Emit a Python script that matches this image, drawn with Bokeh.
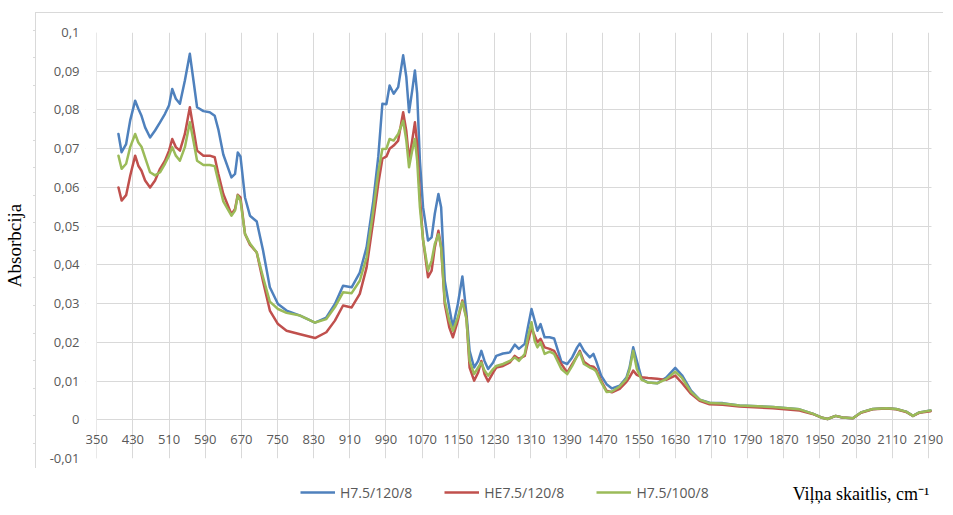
from bokeh.plotting import figure
from bokeh.layouts import column
from bokeh.models import (FixedTicker, CustomJSTickFormatter, Legend, LegendItem,
                          Label, InlineStyleSheet, Range1d, BoxAnnotation)
from bokeh.embed import file_html
from bokeh.resources import INLINE

# ---------------- data ----------------
wavenumber = [398, 405, 415, 424, 435, 442, 449, 457, 468, 479, 490, 501, 510, 517, 525, 534,
              545, 556, 564, 572, 586, 600, 611, 619, 630, 648, 656, 662, 668, 678, 689, 704,
              718, 733, 751, 770, 800, 833, 858, 877, 895, 914, 932, 947, 962, 973, 982, 991,
              998, 1007, 1017, 1028, 1035, 1041, 1048, 1054, 1059, 1065, 1072, 1083, 1091, 1098,
              1106, 1112, 1120, 1130, 1138, 1149, 1159, 1168, 1175, 1185, 1194, 1201, 1208, 1216,
              1227, 1234, 1249, 1264, 1275, 1284, 1297, 1304, 1312, 1319, 1325, 1332, 1341, 1352,
              1362, 1378, 1391, 1402, 1413, 1419, 1428, 1441, 1449, 1455, 1466, 1478, 1490, 1507,
              1522, 1529, 1537, 1545, 1556, 1570, 1590, 1610, 1630, 1645, 1665, 1684, 1706, 1735,
              1772, 1846, 1905, 1934, 1953, 1967, 1985, 2000, 2023, 2041, 2067, 2097, 2119, 2141,
              2156, 2170, 2195]

h75_120_8 = [0.0738, 0.0691, 0.0712, 0.0773, 0.0824, 0.0803, 0.0785, 0.0755, 0.0729, 0.0747, 0.0768,
             0.0790, 0.0812, 0.0854, 0.0829, 0.0816, 0.0876, 0.0945, 0.0876, 0.0807, 0.0797, 0.0794,
             0.0785, 0.0750, 0.0685, 0.0626, 0.0635, 0.0690, 0.0680, 0.0574, 0.0527, 0.0512, 0.0437,
             0.0342, 0.0299, 0.0282, 0.0269, 0.0251, 0.0264, 0.0299, 0.0346, 0.0342, 0.0380, 0.0445,
             0.0566, 0.0680, 0.0816, 0.0815, 0.0863, 0.0842, 0.0859, 0.0941, 0.0885, 0.0794, 0.0850,
             0.0902, 0.0842, 0.0669, 0.0549, 0.0463, 0.0471, 0.0532, 0.0583, 0.0549, 0.0359, 0.0290,
             0.0239, 0.0299, 0.0370, 0.0275, 0.0178, 0.0135, 0.0152, 0.0178, 0.0152, 0.0131, 0.0148,
             0.0165, 0.0171, 0.0174, 0.0194, 0.0183, 0.0196, 0.0239, 0.0286, 0.0256, 0.0230, 0.0247,
             0.0213, 0.0213, 0.0210, 0.0150, 0.0144, 0.0161, 0.0187, 0.0197, 0.0178, 0.0161, 0.0170,
             0.0152, 0.0114, 0.0092, 0.0081, 0.0088, 0.0109, 0.0135, 0.0187, 0.0152, 0.0105, 0.0096,
             0.0094, 0.0109, 0.0134, 0.0115, 0.0075, 0.0052, 0.0044, 0.0043, 0.0037, 0.0033, 0.0027,
             0.0016, 0.0006, 0.0002, 0.0010, 0.0006, 0.0004, 0.0019, 0.0028, 0.0030, 0.0028, 0.0021,
             0.0010, 0.0019, 0.0024]

he75_120_8 = [0.0600, 0.0566, 0.0580, 0.0630, 0.0682, 0.0656, 0.0643, 0.0618, 0.0600, 0.0618, 0.0648,
              0.0669, 0.0695, 0.0725, 0.0704, 0.0695, 0.0738, 0.0807, 0.0751, 0.0695, 0.0682, 0.0682,
              0.0678, 0.0635, 0.0583, 0.0531, 0.0544, 0.0581, 0.0574, 0.0480, 0.0452, 0.0432, 0.0357,
              0.0282, 0.0247, 0.0230, 0.0221, 0.0211, 0.0226, 0.0256, 0.0295, 0.0290, 0.0325, 0.0393,
              0.0515, 0.0610, 0.0674, 0.0680, 0.0700, 0.0708, 0.0721, 0.0794, 0.0745, 0.0671, 0.0721,
              0.0768, 0.0712, 0.0574, 0.0465, 0.0368, 0.0385, 0.0445, 0.0488, 0.0445, 0.0299, 0.0239,
              0.0213, 0.0256, 0.0308, 0.0264, 0.0135, 0.0101, 0.0122, 0.0152, 0.0118, 0.0099, 0.0122,
              0.0135, 0.0139, 0.0148, 0.0165, 0.0157, 0.0165, 0.0200, 0.0237, 0.0217, 0.0200, 0.0209,
              0.0187, 0.0183, 0.0178, 0.0144, 0.0122, 0.0144, 0.0165, 0.0178, 0.0150, 0.0139, 0.0137,
              0.0130, 0.0101, 0.0075, 0.0071, 0.0080, 0.0098, 0.0110, 0.0127, 0.0116, 0.0110, 0.0108,
              0.0106, 0.0103, 0.0114, 0.0095, 0.0067, 0.0049, 0.0040, 0.0039, 0.0034, 0.0030, 0.0024,
              0.0015, 0.0006, 0.0002, 0.0010, 0.0006, 0.0004, 0.0018, 0.0027, 0.0029, 0.0027, 0.0020,
              0.0010, 0.0018, 0.0022]

h75_100_8 = [0.0682, 0.0648, 0.0661, 0.0704, 0.0738, 0.0716, 0.0705, 0.0677, 0.0639, 0.0631, 0.0639,
             0.0661, 0.0682, 0.0704, 0.0682, 0.0669, 0.0704, 0.0768, 0.0720, 0.0669, 0.0658, 0.0658,
             0.0655, 0.0616, 0.0564, 0.0527, 0.0540, 0.0579, 0.0566, 0.0480, 0.0455, 0.0432, 0.0368,
             0.0305, 0.0286, 0.0276, 0.0269, 0.0251, 0.0260, 0.0291, 0.0329, 0.0327, 0.0359, 0.0419,
             0.0541, 0.0640, 0.0699, 0.0700, 0.0725, 0.0721, 0.0738, 0.0772, 0.0721, 0.0652, 0.0695,
             0.0725, 0.0669, 0.0549, 0.0465, 0.0385, 0.0411, 0.0454, 0.0479, 0.0445, 0.0308, 0.0256,
             0.0230, 0.0265, 0.0305, 0.0260, 0.0152, 0.0118, 0.0135, 0.0148, 0.0127, 0.0114, 0.0131,
             0.0139, 0.0144, 0.0152, 0.0161, 0.0152, 0.0170, 0.0213, 0.0252, 0.0204, 0.0187, 0.0200,
             0.0170, 0.0176, 0.0170, 0.0131, 0.0118, 0.0139, 0.0165, 0.0174, 0.0144, 0.0135, 0.0131,
             0.0125, 0.0097, 0.0072, 0.0073, 0.0086, 0.0105, 0.0130, 0.0178, 0.0131, 0.0103, 0.0096,
             0.0094, 0.0105, 0.0124, 0.0108, 0.0072, 0.0052, 0.0043, 0.0042, 0.0037, 0.0033, 0.0027,
             0.0016, 0.0006, 0.0002, 0.0010, 0.0006, 0.0004, 0.0019, 0.0028, 0.0030, 0.0028, 0.0021,
             0.0010, 0.0019, 0.0024]

series = [h75_120_8, he75_120_8, h75_100_8]
series_names = ["H7.5/120/8", "HE7.5/120/8", "H7.5/100/8"]
series_colors = ["#4F81BD", "#C0504D", "#9BBB59"]

x_ticks = [350, 430, 510, 590, 670, 750, 830, 910, 990, 1070, 1150, 1230, 1310, 1390,
           1470, 1550, 1630, 1710, 1790, 1870, 1950, 2030, 2110, 2190]
y_ticks = [-0.01, 0.0, 0.01, 0.02, 0.03, 0.04, 0.05, 0.06, 0.07, 0.08, 0.09, 0.1]

x_title = "Viļņa skaitlis, cm⁻¹"
y_title = "Absorbcija"

# ---------------- layout / style ----------------
GRID = "#d9d9d9"
TICK_FONT = "Open Sans"
PLOT_AREA_START = 350     # left edge of the original plot area
PLOT_AREA_END = 2197      # right edge of the original plot area
VIEW_START = 325.1        # extra room so the end tick labels are not clipped
VIEW_END = 2223.6
W = 943

p = figure(width=W, height=468, output_backend="svg", toolbar_location=None,
           x_range=Range1d(VIEW_START, VIEW_END), y_range=Range1d(-0.01, 0.1),
           min_border_left=76, min_border_right=0, min_border_top=32, min_border_bottom=10)
p.outline_line_color = None
p.background_fill_color = "white"
p.border_fill_color = "white"

# x axis crosses at 0 (labels sit between 0 and -0.01)
p.xaxis.fixed_location = 0
p.xaxis.ticker = FixedTicker(ticks=x_ticks)
p.xaxis.major_tick_line_color = None
p.xaxis.minor_tick_line_color = None
p.xaxis.axis_line_color = None
p.xaxis.major_label_standoff = 9
p.xaxis.major_label_text_font = TICK_FONT
p.xaxis.major_label_text_font_size = "13px"
p.xaxis.major_label_text_color = "#595959"

p.yaxis.ticker = FixedTicker(ticks=y_ticks)
p.yaxis.formatter = CustomJSTickFormatter(
    code="if (Math.abs(tick) < 1e-9) { return '0'; } "
         "return tick.toFixed(2).replace(/0$/, '').replace('.', ',');")
p.yaxis.major_tick_line_color = None
p.yaxis.minor_tick_line_color = None
p.yaxis.axis_line_color = None
p.yaxis.major_label_standoff = 0
p.yaxis.major_label_text_font = TICK_FONT
p.yaxis.major_label_text_font_size = "13px"
p.yaxis.major_label_text_color = "#595959"
p.yaxis.axis_label = y_title
p.yaxis.axis_label_text_font = "Liberation Serif"
p.yaxis.axis_label_text_font_style = "normal"
p.yaxis.axis_label_text_font_size = "19px"
p.yaxis.axis_label_text_color = "black"
p.yaxis.axis_label_standoff = 22

p.xgrid.ticker = FixedTicker(ticks=x_ticks)
p.ygrid.ticker = FixedTicker(ticks=y_ticks)
p.grid.grid_line_color = GRID
p.grid.grid_line_width = 1

# white strips hiding the gridlines outside the original plot area
p.add_layout(BoxAnnotation(right=PLOT_AREA_START - 0.8, fill_color="white", fill_alpha=1,
                           line_color=None, level="underlay"))
p.add_layout(BoxAnnotation(left=PLOT_AREA_END, fill_color="white", fill_alpha=1,
                           line_color=None, level="underlay"))

for vals, col in zip(series, series_colors):
    p.line(wavenumber, vals, line_color=col, line_width=2.5,
           line_join="round", line_cap="round")

# outer chart-area frame (border lines of the original chart box)
p.stylesheets.append(InlineStyleSheet(css="""
:host::before {
  content: ""; position: absolute; left: 35px; top: 12px; right: 0; bottom: 0;
  border-left: 1px solid #d9d9d9; border-top: 1px solid #d9d9d9;
  pointer-events: none; z-index: 5;
}
:host::after {
  content: ""; position: absolute; left: 33px; width: 3px; top: 3px; bottom: 0;
  background-image: repeating-linear-gradient(to bottom, transparent 0px, transparent 26.5px,
                    #d9d9d9 26.5px, #d9d9d9 27.55px);
  pointer-events: none; z-index: 5;
}
"""))

# ---------------- bottom strip: legend + x-axis title ----------------
# (ranges chosen so the series drawn here stay out of view; only their legend glyphs show)
H2 = 39
p2 = figure(width=W, height=H2, output_backend="svg", toolbar_location=None,
            x_range=Range1d(0, 1), y_range=Range1d(10, 11),
            x_axis_type=None, y_axis_type=None,
            min_border_left=0, min_border_right=0, min_border_top=0, min_border_bottom=0)
p2.outline_line_color = None
p2.grid.visible = False
p2.background_fill_color = None
p2.border_fill_color = None

legend_renderers = [p2.line(wavenumber, vals, line_color=col, line_width=2.5)
                    for vals, col in zip(series, series_colors)]
legend = Legend(items=[LegendItem(label=n, renderers=[r])
                       for n, r in zip(series_names, legend_renderers)],
                orientation="horizontal", location=(215, 5),
                glyph_width=35, glyph_height=20, label_standoff=5, spacing=32,
                padding=0, margin=0, border_line_color=None, background_fill_alpha=0,
                label_text_font=TICK_FONT, label_text_font_size="14px",
                label_text_color="#595959")
p2.add_layout(legend)

p2.add_layout(Label(x=844, y=14, x_units="screen", y_units="screen", text=x_title,
                    text_align="right", text_baseline="alphabetic",
                    text_font="Liberation Serif", text_font_style="normal",
                    text_font_size="18px", text_color="black"))

layout = column(p, p2, spacing=0)
open("out.html", "w").write(file_html(layout, INLINE))
